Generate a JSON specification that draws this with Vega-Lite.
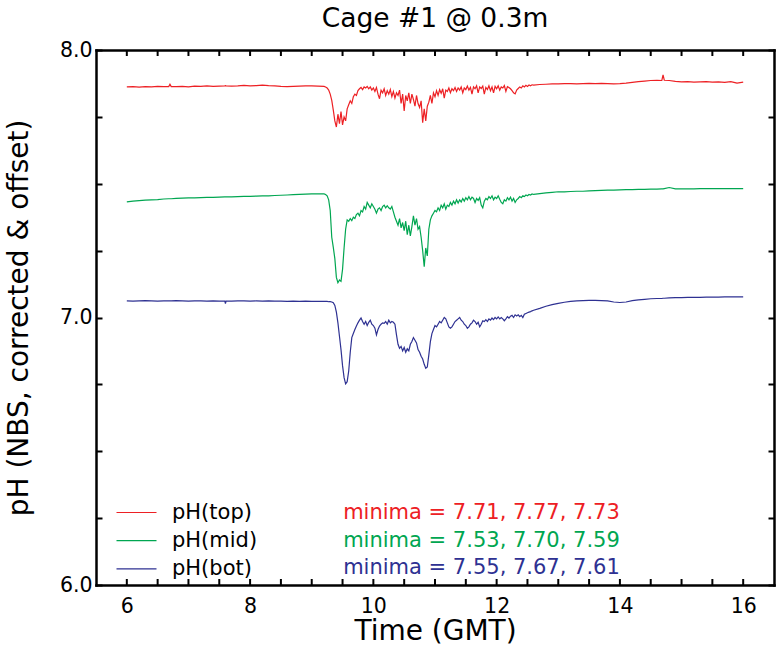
{
  "$schema": "https://vega.github.io/schema/vega-lite/v6.json",
  "width": 678,
  "height": 535,
  "autosize": "none",
  "padding": {"left": 96, "top": 50, "right": 3, "bottom": 66},
  "background": "white",
  "title": {"text": "Cage #1 @ 0.3m", "font": "DejaVu Sans", "fontSize": 26.5, "fontWeight": "normal", "color": "black", "anchor": "middle", "offset": 8},
  "config": {
    "font": "DejaVu Sans",
    "view": {"stroke": null},
    "axis": {"domainColor": "black", "domainWidth": 2.5, "domainCap": "square", "tickColor": "black", "tickWidth": 2, "labelColor": "black", "labelFont": "DejaVu Sans", "labelFontSize": 20.5, "titleFont": "DejaVu Sans", "titleFontSize": 28, "titleFontWeight": "normal", "titleColor": "black", "grid": false, "labelOverlap": false}
  },
  "datasets": {
    "xticks": [{"tv":6},{"tv":6.5},{"tv":7},{"tv":7.5},{"tv":8},{"tv":8.5},{"tv":9},{"tv":9.5},{"tv":10},{"tv":10.5},{"tv":11},{"tv":11.5},{"tv":12},{"tv":12.5},{"tv":13},{"tv":13.5},{"tv":14},{"tv":14.5},{"tv":15},{"tv":15.5},{"tv":16}]
  },
  "data": {"values": [
    {"t":6.0,"top":7.862,"mid":7.432,"bot":7.062},
    {"t":6.1,"top":7.863,"mid":7.435,"bot":7.061},
    {"t":6.2,"top":7.861,"mid":7.437,"bot":7.062},
    {"t":6.3,"top":7.863,"mid":7.439,"bot":7.063},
    {"t":6.4,"top":7.862,"mid":7.44,"bot":7.062},
    {"t":6.5,"top":7.864,"mid":7.441,"bot":7.061},
    {"t":6.6,"top":7.863,"mid":7.443,"bot":7.062},
    {"t":6.68,"top":7.863,"mid":7.444,"bot":7.062},
    {"t":6.7,"top":7.872,"mid":7.444,"bot":7.062},
    {"t":6.72,"top":7.863,"mid":7.444,"bot":7.062},
    {"t":6.8,"top":7.863,"mid":7.445,"bot":7.063},
    {"t":6.9,"top":7.864,"mid":7.446,"bot":7.062},
    {"t":7.0,"top":7.862,"mid":7.447,"bot":7.061},
    {"t":7.1,"top":7.865,"mid":7.447,"bot":7.062},
    {"t":7.2,"top":7.864,"mid":7.448,"bot":7.062},
    {"t":7.3,"top":7.866,"mid":7.449,"bot":7.061},
    {"t":7.4,"top":7.864,"mid":7.449,"bot":7.062},
    {"t":7.5,"top":7.865,"mid":7.45,"bot":7.061},
    {"t":7.59,"top":7.866,"mid":7.451,"bot":7.061},
    {"t":7.6,"top":7.867,"mid":7.451,"bot":7.052},
    {"t":7.61,"top":7.866,"mid":7.451,"bot":7.061},
    {"t":7.7,"top":7.865,"mid":7.451,"bot":7.061},
    {"t":7.8,"top":7.866,"mid":7.452,"bot":7.062},
    {"t":7.9,"top":7.868,"mid":7.453,"bot":7.062},
    {"t":8.0,"top":7.866,"mid":7.453,"bot":7.061},
    {"t":8.1,"top":7.867,"mid":7.454,"bot":7.062},
    {"t":8.2,"top":7.869,"mid":7.455,"bot":7.061},
    {"t":8.3,"top":7.867,"mid":7.455,"bot":7.062},
    {"t":8.4,"top":7.866,"mid":7.456,"bot":7.061},
    {"t":8.5,"top":7.864,"mid":7.457,"bot":7.061},
    {"t":8.6,"top":7.863,"mid":7.458,"bot":7.06},
    {"t":8.7,"top":7.864,"mid":7.459,"bot":7.061},
    {"t":8.8,"top":7.865,"mid":7.46,"bot":7.06},
    {"t":8.9,"top":7.866,"mid":7.461,"bot":7.061},
    {"t":9.0,"top":7.866,"mid":7.462,"bot":7.06},
    {"t":9.1,"top":7.865,"mid":7.462,"bot":7.06},
    {"t":9.2,"top":7.864,"mid":7.462,"bot":7.06},
    {"t":9.225,"top":7.862,"mid":7.46,"bot":7.06},
    {"t":9.25,"top":7.858,"mid":7.455,"bot":7.06},
    {"t":9.275,"top":7.85,"mid":7.44,"bot":7.059},
    {"t":9.3,"top":7.835,"mid":7.4,"bot":7.059},
    {"t":9.325,"top":7.812,"mid":7.3,"bot":7.058},
    {"t":9.35,"top":7.775,"mid":7.262,"bot":7.055},
    {"t":9.375,"top":7.735,"mid":7.22,"bot":7.045},
    {"t":9.4,"top":7.712,"mid":7.15,"bot":7.02},
    {"t":9.425,"top":7.76,"mid":7.13,"bot":6.98},
    {"t":9.45,"top":7.725,"mid":7.14,"bot":6.93},
    {"t":9.475,"top":7.77,"mid":7.135,"bot":6.88},
    {"t":9.5,"top":7.72,"mid":7.18,"bot":6.82},
    {"t":9.525,"top":7.75,"mid":7.26,"bot":6.775},
    {"t":9.55,"top":7.735,"mid":7.33,"bot":6.752},
    {"t":9.575,"top":7.78,"mid":7.365,"bot":6.76},
    {"t":9.6,"top":7.795,"mid":7.36,"bot":6.8},
    {"t":9.625,"top":7.81,"mid":7.37,"bot":6.87},
    {"t":9.65,"top":7.8,"mid":7.362,"bot":6.925},
    {"t":9.675,"top":7.825,"mid":7.375,"bot":6.94},
    {"t":9.7,"top":7.835,"mid":7.37,"bot":6.955},
    {"t":9.725,"top":7.83,"mid":7.385,"bot":6.968},
    {"t":9.75,"top":7.848,"mid":7.39,"bot":6.98},
    {"t":9.775,"top":7.855,"mid":7.38,"bot":6.99},
    {"t":9.8,"top":7.86,"mid":7.4,"bot":6.998},
    {"t":9.825,"top":7.852,"mid":7.395,"bot":6.985},
    {"t":9.85,"top":7.862,"mid":7.415,"bot":6.975},
    {"t":9.875,"top":7.858,"mid":7.405,"bot":6.985},
    {"t":9.9,"top":7.864,"mid":7.43,"bot":6.97},
    {"t":9.925,"top":7.855,"mid":7.42,"bot":6.982},
    {"t":9.95,"top":7.862,"mid":7.41,"bot":6.99},
    {"t":9.975,"top":7.85,"mid":7.425,"bot":6.975},
    {"t":10.0,"top":7.858,"mid":7.415,"bot":6.97},
    {"t":10.025,"top":7.845,"mid":7.405,"bot":6.96},
    {"t":10.05,"top":7.86,"mid":7.39,"bot":6.935},
    {"t":10.075,"top":7.835,"mid":7.405,"bot":6.955},
    {"t":10.1,"top":7.818,"mid":7.41,"bot":6.968},
    {"t":10.125,"top":7.85,"mid":7.4,"bot":6.975},
    {"t":10.15,"top":7.84,"mid":7.415,"bot":6.98},
    {"t":10.175,"top":7.855,"mid":7.42,"bot":6.978},
    {"t":10.2,"top":7.83,"mid":7.41,"bot":6.985},
    {"t":10.225,"top":7.848,"mid":7.418,"bot":6.975},
    {"t":10.25,"top":7.835,"mid":7.41,"bot":6.99},
    {"t":10.275,"top":7.852,"mid":7.405,"bot":6.98},
    {"t":10.3,"top":7.826,"mid":7.415,"bot":6.985},
    {"t":10.325,"top":7.845,"mid":7.395,"bot":6.982},
    {"t":10.35,"top":7.82,"mid":7.375,"bot":6.975},
    {"t":10.375,"top":7.84,"mid":7.36,"bot":6.935},
    {"t":10.4,"top":7.83,"mid":7.345,"bot":6.9},
    {"t":10.425,"top":7.85,"mid":7.37,"bot":6.885},
    {"t":10.45,"top":7.8,"mid":7.335,"bot":6.892},
    {"t":10.475,"top":7.835,"mid":7.355,"bot":6.875},
    {"t":10.5,"top":7.772,"mid":7.325,"bot":6.888},
    {"t":10.525,"top":7.83,"mid":7.36,"bot":6.87},
    {"t":10.55,"top":7.81,"mid":7.31,"bot":6.883},
    {"t":10.575,"top":7.84,"mid":7.345,"bot":6.875},
    {"t":10.6,"top":7.8,"mid":7.305,"bot":6.9},
    {"t":10.625,"top":7.835,"mid":7.34,"bot":6.91},
    {"t":10.65,"top":7.815,"mid":7.38,"bot":6.925},
    {"t":10.675,"top":7.79,"mid":7.345,"bot":6.915},
    {"t":10.7,"top":7.83,"mid":7.37,"bot":6.905},
    {"t":10.725,"top":7.8,"mid":7.33,"bot":6.88},
    {"t":10.75,"top":7.785,"mid":7.34,"bot":6.87},
    {"t":10.775,"top":7.81,"mid":7.3,"bot":6.855},
    {"t":10.8,"top":7.728,"mid":7.25,"bot":6.845},
    {"t":10.825,"top":7.78,"mid":7.19,"bot":6.825},
    {"t":10.85,"top":7.735,"mid":7.26,"bot":6.81},
    {"t":10.875,"top":7.79,"mid":7.23,"bot":6.815},
    {"t":10.9,"top":7.805,"mid":7.33,"bot":6.86},
    {"t":10.925,"top":7.83,"mid":7.365,"bot":6.91},
    {"t":10.95,"top":7.8,"mid":7.38,"bot":6.94},
    {"t":10.975,"top":7.84,"mid":7.39,"bot":6.955},
    {"t":11.0,"top":7.825,"mid":7.4,"bot":6.97},
    {"t":11.025,"top":7.848,"mid":7.395,"bot":6.965},
    {"t":11.05,"top":7.83,"mid":7.41,"bot":6.975},
    {"t":11.075,"top":7.852,"mid":7.4,"bot":6.985},
    {"t":11.1,"top":7.838,"mid":7.42,"bot":6.98},
    {"t":11.125,"top":7.855,"mid":7.41,"bot":6.99},
    {"t":11.15,"top":7.82,"mid":7.425,"bot":7.0},
    {"t":11.175,"top":7.85,"mid":7.405,"bot":6.995},
    {"t":11.2,"top":7.845,"mid":7.42,"bot":6.98},
    {"t":11.225,"top":7.858,"mid":7.415,"bot":6.965},
    {"t":11.25,"top":7.84,"mid":7.43,"bot":6.96},
    {"t":11.275,"top":7.855,"mid":7.42,"bot":6.965},
    {"t":11.3,"top":7.848,"mid":7.435,"bot":6.975},
    {"t":11.325,"top":7.86,"mid":7.425,"bot":6.985},
    {"t":11.35,"top":7.845,"mid":7.44,"bot":6.99},
    {"t":11.375,"top":7.858,"mid":7.428,"bot":6.995},
    {"t":11.4,"top":7.85,"mid":7.44,"bot":7.0},
    {"t":11.425,"top":7.862,"mid":7.432,"bot":6.99},
    {"t":11.45,"top":7.84,"mid":7.445,"bot":6.985},
    {"t":11.475,"top":7.858,"mid":7.435,"bot":6.975},
    {"t":11.5,"top":7.852,"mid":7.448,"bot":6.97},
    {"t":11.525,"top":7.865,"mid":7.44,"bot":6.96},
    {"t":11.55,"top":7.85,"mid":7.452,"bot":6.965},
    {"t":11.575,"top":7.86,"mid":7.44,"bot":6.975},
    {"t":11.6,"top":7.835,"mid":7.45,"bot":6.98},
    {"t":11.625,"top":7.862,"mid":7.445,"bot":6.99},
    {"t":11.65,"top":7.855,"mid":7.43,"bot":6.985},
    {"t":11.675,"top":7.866,"mid":7.445,"bot":6.975},
    {"t":11.7,"top":7.84,"mid":7.438,"bot":6.982},
    {"t":11.725,"top":7.862,"mid":7.448,"bot":6.965},
    {"t":11.75,"top":7.856,"mid":7.42,"bot":6.975},
    {"t":11.775,"top":7.865,"mid":7.41,"bot":6.988},
    {"t":11.8,"top":7.835,"mid":7.435,"bot":6.985},
    {"t":11.825,"top":7.86,"mid":7.445,"bot":6.992},
    {"t":11.85,"top":7.852,"mid":7.44,"bot":6.985},
    {"t":11.875,"top":7.866,"mid":7.452,"bot":6.995},
    {"t":11.9,"top":7.848,"mid":7.445,"bot":6.99},
    {"t":11.925,"top":7.862,"mid":7.455,"bot":6.998},
    {"t":11.95,"top":7.84,"mid":7.44,"bot":6.992},
    {"t":11.975,"top":7.864,"mid":7.45,"bot":7.0},
    {"t":12.0,"top":7.855,"mid":7.445,"bot":6.995},
    {"t":12.025,"top":7.866,"mid":7.455,"bot":7.002},
    {"t":12.05,"top":7.85,"mid":7.442,"bot":6.995},
    {"t":12.075,"top":7.862,"mid":7.43,"bot":7.0},
    {"t":12.1,"top":7.858,"mid":7.425,"bot":6.995},
    {"t":12.125,"top":7.867,"mid":7.44,"bot":6.988},
    {"t":12.15,"top":7.845,"mid":7.435,"bot":6.995},
    {"t":12.175,"top":7.863,"mid":7.448,"bot":7.003},
    {"t":12.2,"top":7.86,"mid":7.44,"bot":6.998},
    {"t":12.225,"top":7.855,"mid":7.45,"bot":7.005},
    {"t":12.25,"top":7.848,"mid":7.435,"bot":7.008},
    {"t":12.275,"top":7.84,"mid":7.445,"bot":7.0},
    {"t":12.3,"top":7.836,"mid":7.43,"bot":7.01},
    {"t":12.325,"top":7.85,"mid":7.44,"bot":7.006},
    {"t":12.35,"top":7.856,"mid":7.445,"bot":7.01},
    {"t":12.375,"top":7.862,"mid":7.452,"bot":7.003},
    {"t":12.4,"top":7.858,"mid":7.448,"bot":7.008},
    {"t":12.425,"top":7.866,"mid":7.455,"bot":7.0},
    {"t":12.45,"top":7.862,"mid":7.452,"bot":7.012},
    {"t":12.475,"top":7.868,"mid":7.458,"bot":7.015},
    {"t":12.5,"top":7.864,"mid":7.455,"bot":7.018},
    {"t":12.525,"top":7.869,"mid":7.46,"bot":7.02},
    {"t":12.55,"top":7.866,"mid":7.458,"bot":7.022},
    {"t":12.575,"top":7.87,"mid":7.462,"bot":7.025},
    {"t":12.6,"top":7.869,"mid":7.46,"bot":7.027},
    {"t":12.7,"top":7.871,"mid":7.463,"bot":7.034},
    {"t":12.8,"top":7.872,"mid":7.466,"bot":7.042},
    {"t":12.9,"top":7.873,"mid":7.468,"bot":7.048},
    {"t":13.0,"top":7.873,"mid":7.47,"bot":7.053},
    {"t":13.1,"top":7.874,"mid":7.47,"bot":7.057},
    {"t":13.2,"top":7.874,"mid":7.471,"bot":7.06},
    {"t":13.3,"top":7.873,"mid":7.472,"bot":7.062},
    {"t":13.4,"top":7.874,"mid":7.472,"bot":7.063},
    {"t":13.5,"top":7.875,"mid":7.473,"bot":7.064},
    {"t":13.6,"top":7.874,"mid":7.474,"bot":7.064},
    {"t":13.7,"top":7.875,"mid":7.475,"bot":7.063},
    {"t":13.8,"top":7.874,"mid":7.476,"bot":7.062},
    {"t":13.9,"top":7.873,"mid":7.476,"bot":7.058},
    {"t":14.0,"top":7.874,"mid":7.477,"bot":7.056},
    {"t":14.1,"top":7.876,"mid":7.478,"bot":7.058},
    {"t":14.2,"top":7.879,"mid":7.478,"bot":7.063},
    {"t":14.3,"top":7.882,"mid":7.479,"bot":7.066},
    {"t":14.4,"top":7.884,"mid":7.479,"bot":7.068},
    {"t":14.5,"top":7.886,"mid":7.48,"bot":7.07},
    {"t":14.6,"top":7.887,"mid":7.48,"bot":7.071},
    {"t":14.68,"top":7.886,"mid":7.481,"bot":7.071},
    {"t":14.7,"top":7.907,"mid":7.481,"bot":7.072},
    {"t":14.72,"top":7.887,"mid":7.482,"bot":7.072},
    {"t":14.8,"top":7.886,"mid":7.486,"bot":7.073},
    {"t":14.9,"top":7.883,"mid":7.481,"bot":7.074},
    {"t":15.0,"top":7.881,"mid":7.481,"bot":7.074},
    {"t":15.1,"top":7.882,"mid":7.481,"bot":7.075},
    {"t":15.2,"top":7.88,"mid":7.481,"bot":7.075},
    {"t":15.3,"top":7.881,"mid":7.482,"bot":7.075},
    {"t":15.4,"top":7.882,"mid":7.482,"bot":7.076},
    {"t":15.5,"top":7.88,"mid":7.482,"bot":7.076},
    {"t":15.6,"top":7.881,"mid":7.482,"bot":7.076},
    {"t":15.7,"top":7.879,"mid":7.482,"bot":7.077},
    {"t":15.8,"top":7.882,"mid":7.482,"bot":7.077},
    {"t":15.9,"top":7.876,"mid":7.482,"bot":7.077},
    {"t":16.0,"top":7.88,"mid":7.482,"bot":7.077}
  ]},
  "resolve": {"axis": {"x": "independent", "y": "independent"}},
  "layer": [
    {
      "transform": [{"fold": ["top", "mid", "bot"], "as": ["s", "v"]}],
      "mark": {"type": "line", "strokeWidth": 1.2},
      "encoding": {
        "x": {"field": "t", "type": "quantitative", "scale": {"domain": [5.5, 16.5], "nice": false, "zero": false},
          "axis": {"orient": "bottom", "values": [6,7,8,9,10,11,12,13,14,15,16], "labelExpr": "datum.value % 2 === 0 ? datum.value : ''", "ticks": false, "labelPadding": 11, "labelFlush": false, "title": "Time (GMT)", "titlePadding": 1}},
        "y": {"field": "v", "type": "quantitative", "scale": {"domain": [6, 8], "nice": false, "zero": false},
          "axis": {"orient": "left", "values": [6,6.25,6.5,6.75,7,7.25,7.5,7.75,8], "labelExpr": "datum.value % 1 === 0 ? format(datum.value, '.1f') : ''", "ticks": true, "tickSize": -6, "labelPadding": 10, "title": "pH (NBS, corrected & offset)", "titlePadding": 26}},
        "color": {"field": "s", "type": "nominal", "sort": ["top", "mid", "bot"],
          "scale": {"domain": ["top", "mid", "bot"], "range": ["#ed2024", "#00a651", "#2e3192"]},
          "legend": {"orient": "none", "legendX": 30, "legendY": 452, "title": null, "symbolType": "M-4,0H4", "symbolSize": 100, "symbolStrokeWidth": 1.2, "symbolFillColor": "transparent", "labelFontSize": 21, "labelFont": "DejaVu Sans", "labelColor": "black", "labelOffset": 25, "rowPadding": 6.2, "padding": 0, "labelExpr": "'pH(' + datum.label + ')'"}}
      }
    },
    {
      "data": {"values": [{"label": "minima = 7.71, 7.77, 7.73"}]},
      "mark": {"type": "text", "align": "left", "baseline": "middle", "fontSize": 21, "font": "DejaVu Sans"},
      "encoding": {
        "x": {"datum": 9.51, "type": "quantitative", "axis": {"orient": "top", "values": [6,7,8,9,10,11,12,13,14,15,16], "labels": false, "ticks": false, "title": null}},
        "y": {"datum": 6.268, "type": "quantitative", "axis": {"orient": "right", "values": [6,6.25,6.5,6.75,7,7.25,7.5,7.75,8], "labels": false, "ticks": true, "tickSize": -6, "title": null}},
        "text": {"field": "label"},
        "color": {"value": "#ed2024"}
      }
    },
    {
      "data": {"values": [{"label": "minima = 7.53, 7.70, 7.59"}]},
      "mark": {"type": "text", "align": "left", "baseline": "middle", "fontSize": 21, "font": "DejaVu Sans"},
      "encoding": {
        "x": {"datum": 9.51, "type": "quantitative", "axis": null},
        "y": {"datum": 6.166, "type": "quantitative", "axis": null},
        "text": {"field": "label"},
        "color": {"value": "#00a651"}
      }
    },
    {
      "data": {"values": [{"label": "minima = 7.55, 7.67, 7.61"}]},
      "mark": {"type": "text", "align": "left", "baseline": "middle", "fontSize": 21, "font": "DejaVu Sans"},
      "encoding": {
        "x": {"datum": 9.51, "type": "quantitative", "axis": null},
        "y": {"datum": 6.064, "type": "quantitative", "axis": null},
        "text": {"field": "label"},
        "color": {"value": "#2e3192"}
      }
    },
    {
      "data": {"name": "xticks"},
      "mark": {"type": "tick", "orient": "vertical", "size": 6, "thickness": 2, "color": "black", "opacity": 1, "yOffset": -3},
      "encoding": {
        "x": {"field": "tv", "type": "quantitative", "axis": null},
        "y": {"datum": 6, "type": "quantitative", "axis": null}
      }
    },
    {
      "data": {"name": "xticks"},
      "mark": {"type": "tick", "orient": "vertical", "size": 6, "thickness": 2, "color": "black", "opacity": 1, "yOffset": 3},
      "encoding": {
        "x": {"field": "tv", "type": "quantitative", "axis": null},
        "y": {"datum": 8, "type": "quantitative", "axis": null}
      }
    }
  ]
}
